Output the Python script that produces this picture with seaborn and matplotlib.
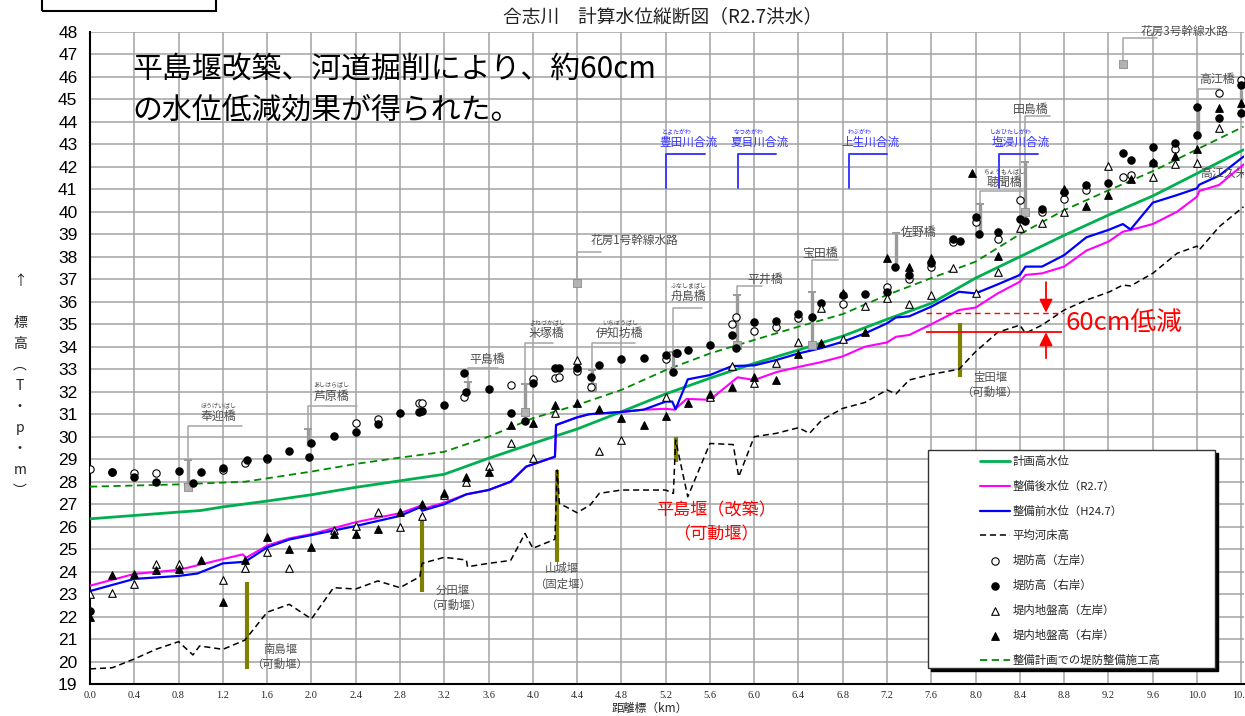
import matplotlib
matplotlib.use("Agg")
import matplotlib.pyplot as plt
from matplotlib.patches import Rectangle
from matplotlib.ticker import MultipleLocator
import pandas as pd
import seaborn as sns

# ---------------- data ----------------
plan_km = [0.0, 0.4, 0.8, 1.0, 1.2, 1.6, 2.0, 2.4, 2.8, 3.2, 3.6, 4.0, 4.4, 4.8, 5.2, 5.6,
           6.0, 6.4, 6.8, 7.2, 7.6, 8.0, 8.4, 8.8, 9.2, 9.6, 10.0, 10.42]
plan_h = [26.35, 26.5, 26.65, 26.72, 26.88, 27.14, 27.42, 27.75, 28.04, 28.33, 29.04, 29.7,
          30.34, 31.11, 31.9, 32.6, 33.26, 33.85, 34.47, 35.22, 35.93, 37.05, 38.0, 38.95,
          39.85, 40.7, 41.7, 42.75]

after_km = [0.0, 0.4, 0.8, 1.2, 1.38, 1.41, 1.6, 1.8, 2.0, 2.4, 2.8, 2.98, 3.0, 3.2, 3.4, 3.6,
            3.8, 3.94, 4.2, 4.21, 4.4, 4.51, 4.8, 5.0, 5.2, 5.28, 5.39, 5.6, 5.85, 6.0, 6.2,
            6.4, 6.6, 6.8, 7.0, 7.2, 7.28, 7.4, 7.6, 7.85, 8.0, 8.2, 8.4, 8.45, 8.6, 8.8,
            9.0, 9.2, 9.33, 9.4, 9.6, 9.82, 10.0, 10.02, 10.2, 10.42]
after_h = [23.38, 23.9, 24.08, 24.56, 24.77, 24.62, 25.16, 25.48, 25.67, 26.2, 26.6, 26.92,
           26.78, 27.07, 27.44, 27.63, 28.0, 28.67, 29.11, 30.52, 30.86, 31.0, 31.1, 31.2,
           31.24, 31.2, 31.68, 31.64, 32.64, 32.52, 32.87, 33.1, 33.31, 33.57, 34.0, 34.19,
           34.44, 34.52, 35.0, 35.63, 35.74, 36.37, 36.89, 37.19, 37.26, 37.56, 38.27, 38.67,
           39.11, 39.19, 39.45, 40.0, 40.67, 40.92, 41.19, 42.1]

before_km = [0.0, 0.4, 0.8, 0.97, 1.2, 1.4, 1.6, 1.8, 2.0, 2.4, 2.8, 2.98, 3.0, 3.2, 3.4, 3.6,
             3.8, 3.94, 4.2, 4.21, 4.4, 4.51, 4.8, 5.0, 5.2, 5.26, 5.29, 5.4, 5.6, 5.8, 6.0,
             6.2, 6.4, 6.6, 6.8, 7.0, 7.2, 7.28, 7.4, 7.6, 7.85, 8.0, 8.2, 8.4, 8.45, 8.6,
             8.8, 9.0, 9.2, 9.33, 9.4, 9.6, 9.82, 10.0, 10.02, 10.2, 10.42]
before_h = [23.14, 23.68, 23.81, 23.92, 24.37, 24.44, 25.08, 25.43, 25.63, 26.03, 26.48,
            26.86, 26.71, 27.0, 27.44, 27.63, 28.0, 28.67, 29.11, 30.52, 30.86, 31.0, 31.1,
            31.2, 31.56, 31.56, 31.22, 32.55, 32.74, 33.14, 33.17, 33.41, 33.7, 33.93, 34.22,
            34.59, 35.04, 35.3, 35.35, 35.78, 36.44, 36.37, 36.77, 37.19, 37.56, 37.56, 38.07,
            38.86, 39.19, 39.45, 39.21, 40.4, 40.74, 41.04, 41.2, 41.6, 42.45]

bed_km = [0.0, 0.2, 0.4, 0.6, 0.8, 0.93, 0.99, 1.2, 1.4, 1.6, 1.8, 2.0, 2.2, 2.4, 2.6, 2.8,
          2.98, 3.0, 3.2, 3.4, 3.41, 3.6, 3.8, 3.93, 4.0, 4.2, 4.22, 4.24, 4.4, 4.52, 4.6,
          4.8, 5.2, 5.27, 5.29, 5.4, 5.6, 5.81, 5.86, 6.0, 6.2, 6.4, 6.5, 6.61, 6.8, 7.0,
          7.2, 7.28, 7.4, 7.6, 7.85, 8.0, 8.2, 8.4, 8.45, 8.6, 8.8, 9.0, 9.21, 9.33, 9.4,
          9.6, 9.82, 10.0, 10.02, 10.2, 10.42]
bed_h = [19.68, 19.73, 20.12, 20.56, 20.89, 20.3, 20.7, 20.55, 20.96, 22.2, 22.55, 21.9,
         23.29, 23.23, 23.59, 23.29, 23.78, 24.37, 24.64, 24.52, 24.22, 24.37, 24.5, 25.7,
         25.04, 25.44, 28.52, 27.04, 26.62, 26.97, 27.48, 27.63, 27.63, 27.48, 29.85, 27.33,
         29.7, 29.65, 28.22, 30.0, 30.15, 30.4, 30.15, 30.74, 31.26, 31.52, 32.08, 31.9,
         32.52, 32.77, 33.0, 33.78, 34.64, 34.96, 34.6, 34.96, 35.63, 36.07, 36.44, 36.74,
         36.7, 37.26, 38.15, 38.47, 38.3, 39.33, 40.22]

levee_km = [0.0, 0.8, 1.4, 1.6, 2.0, 2.4, 2.8, 3.2, 3.6, 4.0, 4.4, 4.8, 5.2, 5.6, 6.0, 6.4,
            6.8, 7.2, 7.6, 8.0, 8.4, 8.8, 9.2, 9.6, 10.0, 10.42]
levee_h = [27.78, 27.88, 28.0, 28.15, 28.45, 28.79, 29.07, 29.33, 30.0, 30.82, 31.41, 32.08,
           32.96, 33.7, 34.3, 34.89, 35.45, 36.3, 37.05, 37.78, 39.0, 40.07, 40.95, 41.8,
           42.77, 43.78]

lb_crest_km = [0.0, 0.2, 0.4, 0.6, 1.2, 1.4, 1.6, 2.4, 2.6, 2.97, 3.0, 3.38, 3.8, 4.0, 4.2,
               4.24, 4.4, 4.53, 5.2, 5.29, 5.8, 5.84, 6.0, 6.2, 6.4, 6.8, 7.2, 7.4, 7.6, 7.8,
               8.0, 8.2, 8.4, 8.6, 8.8, 9.0, 9.33, 9.4, 9.8, 10.2, 10.4]
lb_crest_h = [28.56, 28.45, 28.37, 28.37, 28.5, 28.82, 29.0, 30.6, 30.79, 31.48, 31.5, 31.75,
              32.3, 32.55, 32.6, 32.65, 32.93, 32.22, 33.45, 33.71, 35.0, 35.33, 34.71, 34.89,
              35.26, 35.9, 36.67, 37.0, 37.53, 38.65, 39.53, 38.77, 40.52, 39.99, 40.55, 40.96,
              41.56, 41.65, 42.8, 45.26, 45.85]

rb_crest_km = [0.0, 0.2, 0.4, 0.6, 0.8, 0.93, 1.0, 1.2, 1.42, 1.6, 1.8, 1.98, 2.0, 2.2, 2.4,
               2.6, 2.8, 2.97, 3.0, 3.2, 3.38, 3.4, 3.6, 3.8, 3.93, 4.0, 4.2, 4.24, 4.4, 4.53,
               4.6, 4.8, 5.0, 5.2, 5.27, 5.3, 5.4, 5.6, 5.8, 5.84, 6.0, 6.2, 6.4, 6.52, 6.6,
               6.8, 7.0, 7.2, 7.27, 7.4, 7.6, 7.8, 7.86, 8.0, 8.03, 8.2, 8.4, 8.45, 8.6, 8.8,
               9.0, 9.2, 9.33, 9.4, 9.6, 9.6, 9.8, 10.0, 10.0, 10.2, 10.4, 10.4]
rb_crest_h = [22.25, 28.42, 28.2, 28.0, 28.49, 27.96, 28.42, 28.6, 28.96, 29.05, 29.38, 29.11,
              29.73, 30.04, 30.19, 30.55, 31.04, 31.08, 31.15, 31.41, 32.82, 32.0, 32.1, 31.04,
              30.71, 32.4, 33.07, 33.07, 33.07, 32.64, 33.2, 33.47, 33.5, 33.63, 32.86, 33.7,
              33.84, 34.07, 34.5, 33.95, 35.08, 35.16, 35.46, 35.3, 35.94, 36.28, 36.33, 36.42,
              37.53, 37.2, 37.7, 38.8, 38.7, 39.78, 39.0, 39.11, 39.66, 39.6, 40.1, 40.87, 41.2,
              41.28, 42.6, 42.3, 42.89, 42.18, 43.04, 44.67, 43.41, 44.15, 44.37, 45.63]

lb_ground_km = [0.0, 0.2, 0.4, 0.6, 0.8, 1.2, 1.4, 1.6, 1.8, 2.2, 2.4, 2.6, 2.8, 3.0, 3.2,
                3.4, 3.6, 3.8, 4.0, 4.2, 4.4, 4.6, 4.8, 5.2, 5.6, 5.8, 6.0, 6.2, 6.4, 6.6,
                6.8, 7.0, 7.2, 7.4, 7.6, 7.8, 8.0, 8.2, 8.4, 8.6, 8.8, 9.2, 9.6, 9.8, 10.0, 10.2]
lb_ground_h = [23.0, 23.07, 23.44, 24.33, 24.33, 23.63, 24.15, 24.89, 24.15, 25.85, 26.03,
               26.67, 26.0, 26.48, 27.4, 28.0, 28.7, 29.7, 29.04, 31.07, 33.41, 29.38, 29.85,
               31.78, 31.75, 33.16, 32.37, 33.26, 34.2, 35.7, 34.34, 35.8, 36.15, 35.9, 36.3,
               37.51, 36.37, 37.33, 39.26, 39.51, 40.0, 42.03, 41.56, 42.1, 42.18, 43.74]

rb_ground_km = [0.0, 0.2, 0.4, 0.6, 0.8, 1.0, 1.2, 1.4, 1.6, 1.8, 2.0, 2.2, 2.4, 2.6, 2.8,
                3.0, 3.2, 3.4, 3.6, 3.8, 4.0, 4.2, 4.4, 4.6, 4.8, 5.0, 5.2, 5.4, 5.6, 5.8,
                6.0, 6.2, 6.4, 6.6, 6.8, 7.0, 7.2, 7.4, 7.6, 7.97, 8.2, 8.8, 9.0, 9.2, 9.4,
                9.6, 9.8, 10.0, 10.2, 10.4]
rb_ground_h = [22.0, 23.85, 23.9, 24.08, 24.1, 24.52, 22.64, 24.5, 25.56, 25.0, 25.1, 25.66,
               25.66, 25.9, 26.67, 27.0, 27.48, 28.22, 28.44, 30.52, 30.63, 31.4, 31.51, 31.23,
               30.84, 30.52, 30.94, 31.51, 31.88, 32.2, 32.67, 32.52, 33.66, 34.18, 36.4, 34.67,
               37.93, 37.56, 37.93, 41.73, 38.03, 41.0, 40.25, 40.74, 41.44, 42.2, 42.46, 42.8,
               44.6, 44.82]

# weirs
weir_names = ["南島堰\n（可動堰）", "分田堰\n（可動堰）", "山城堰\n（固定堰）",
              "平島堰（改築）\n（可動堰）", "宝田堰\n（可動堰）"]
weir_km = [1.42, 3.0, 4.22, 5.29, 7.86]
weir_top = [23.55, 26.5, 28.52, 29.97, 35.04]
weir_bottom = [19.67, 23.08, 24.44, 28.89, 32.67]

# bridges / structures: km, top of bar, bottom of bar
bridge_names = ["奉迎橋", "芦原橋", "平島橋", "米塚橋", "伊知坊橋", "舟島橋", "平井橋",
                "宝田橋", "佐野橋", "聴聞橋", "田島橋", "高江橋"]
bridge_kana = ["ほうげいばし", "あしはらばし", "", "よねづかばし", "いちぼうばし",
               "ふなしまばし", "", "", "", "ちょうもんばし", "", ""]
bridge_km = [0.885, 1.97, 3.415, 3.93, 4.532, 5.264, 5.842, 6.519, 7.28, 8.04, 8.446, 10.01]
bridge_top = [28.96, 30.35, 32.44, 32.33, 32.97, 33.78, 36.3, 36.45, 39.07, 40.33, 42.2, 44.67]
bridge_bottom = [27.78, 29.6, 32.0, 31.11, 32.22, 32.89, 34.07, 34.07, 37.56, 38.96, 40.0, 43.41]
bridge_square = [True, False, False, True, True, False, True, True, False, False, True, False]

canal_names = ["花房1号幹線水路", "花房3号幹線水路"]
canal_km = [4.4, 9.33]
canal_h = [36.85, 46.55]

conf_names = ["豊田川合流", "夏目川合流", "上生川合流", "塩浸川合流"]
conf_kana = ["とよたがわ", "なつめがわ", "わぶがわ", "しおひたしがわ"]
conf_km = [5.203, 5.851, 6.854, 8.211]

xtick_vals = [round(0.4 * i, 1) for i in range(27)]
xtick_labels = [f"{v:.1f}" for v in xtick_vals]

# ---------------- layout (positions only) ----------------
bridge_label_xy = [(1.156, 30.92), (2.183, 31.81), (3.584, 33.45), (4.126, 34.6),
                   (4.788, 34.6), (5.405, 36.22), (6.098, 36.99), (6.594, 38.15),
                   (7.32, 39.07), (8.257, 41.29), (8.5, 44.55), (10.18, 45.88)]
bridge_leader = [(30.49, 1.373), (31.36, 2.41), (33.07, 3.686), (34.15, 4.18),
                 (34.15, 4.923), (35.71, 5.526), (36.71, 6.067), (37.85, 6.759),
                 (None, None), (40.93, 8.43), (44.25, 8.672), (45.45, 10.21)]
canal_label_xy = [(4.92, 38.7), (9.892, 48.0)]
canal_leader = [(38.22, 4.62), (47.71, 9.64)]
weir_label_xy = [(1.716, 20.2), (3.28, 22.83), (4.264, 23.81), (5.655, 26.19), (8.13, 32.3)]

sns.set_style("white")
JP = ['Noto Sans CJK JP', 'DejaVu Sans']
plt.rcParams['font.family'] = JP

W, H = 1245, 716
fig = plt.figure(figsize=(W / 100, H / 100), dpi=100)
ax = fig.add_axes([90 / W, 1 - 684.2 / H, (1243.5 - 90) / W, (684.2 - 31.7) / H])


def draw_line(x, y, color, lw, label, ls='-', z=4):
    df = pd.DataFrame({'km': x, 'h': y})
    sns.lineplot(data=df, x='km', y='h', color=color, linewidth=lw, linestyle=ls,
                 estimator=None, sort=False, label=label, legend=False, ax=ax, zorder=z)


def draw_pts(x, y, marker, face, label, s):
    sns.scatterplot(x=x, y=y, marker=marker, s=s, color=face, edgecolor='black',
                    linewidth=0.8, label=label, legend=False, ax=ax, zorder=5)


draw_line(plan_km, plan_h, '#00b050', 2.0, '計画高水位')
draw_line(after_km, after_h, '#ff00ff', 1.5, '整備後水位（R2.7）', z=4.2)
draw_line(before_km, before_h, '#0000ff', 1.6, '整備前水位（H24.7）', z=4.3)
draw_line(bed_km, bed_h, 'black', 1.1, '平均河床高', ls=(0, (4, 2.5)))
draw_line(levee_km, levee_h, '#008a00', 1.3, '整備計画での堤防整備施工高', ls=(0, (4, 2.5)))

draw_pts(lb_crest_km, lb_crest_h, 'o', 'white', '堤防高（左岸）', 28)
draw_pts(rb_crest_km, rb_crest_h, 'o', 'black', '堤防高（右岸）', 28)
draw_pts(lb_ground_km, lb_ground_h, '^', 'white', '堤内地盤高（左岸）', 30)
draw_pts(rb_ground_km, rb_ground_h, '^', 'black', '堤内地盤高（右岸）', 30)

# axes, grid, ticks
ax.set_xlim(0, 10.42)
ax.set_ylim(19, 48)
ax.set_xticks(xtick_vals)
ax.set_xticklabels(xtick_labels)
ax.xaxis.set_minor_locator(MultipleLocator(0.1))
ax.set_yticks(range(19, 49))
ax.grid(True, which='major', color='#a3a3a3', linewidth=1.1, zorder=0)
ax.set_axisbelow(True)
for s in ['top', 'right']:
    ax.spines[s].set_visible(False)
for s in ['left', 'bottom']:
    ax.spines[s].set_color('black')
    ax.spines[s].set_linewidth(1.5)
ax.tick_params(axis='y', which='major', direction='out', length=5, width=1.2,
               labelsize=12.5, pad=4, labelfontfamily='Liberation Sans', colors='black')
ax.tick_params(axis='x', which='major', direction='in', length=4, width=1.0,
               labelsize=7.5, pad=5, labelfontfamily='Liberation Serif')
ax.tick_params(axis='x', which='minor', direction='in', length=2, width=0.8)
ax.set_xlabel("")
ax.set_ylabel("")

# weirs
ax.vlines(weir_km, weir_bottom, weir_top, color='#808000', linewidth=3.0, zorder=3)
for (x, y), name in zip(weir_label_xy, weir_names):
    red = name.startswith("平島堰")
    ax.text(x, y, name, ha='center', va='center', multialignment='center',
            fontsize=12.3 if red else 8.2, color='#ff0000' if red else '#505050',
            linespacing=1.45, zorder=6)

# bridges
GR = '#9a9a9a'
for i, name in enumerate(bridge_names):
    km = bridge_km[i]
    ly, lx_end = bridge_leader[i]
    if ly is not None:
        ax.plot([lx_end, km, km], [ly, ly, bridge_top[i]], color='#a6a6a6', lw=1.1, zorder=3)
    ax.vlines(km, bridge_bottom[i], bridge_top[i], color=GR, lw=2.4, zorder=4.5)
    ax.hlines(bridge_top[i], km - 0.035, km + 0.035, color=GR, lw=1.4, zorder=4.5)
    if bridge_square[i]:
        ax.scatter([km], [bridge_bottom[i]], marker='s', s=30, color='#b3b3b3',
                   edgecolor='#8c8c8c', linewidth=0.6, zorder=4.6)
    tx, ty = bridge_label_xy[i]
    ha = 'left' if name == "佐野橋" else 'center'
    ax.text(tx, ty, name, ha=ha, va='center', fontsize=8.6, color='#4d4d4d', zorder=6)
    if bridge_kana[i]:
        ax.text(tx, ty + 0.46, bridge_kana[i], ha='center', va='center', fontsize=4.3,
                color='#4d4d4d', zorder=6)
# extra bar at the upstream end
ax.vlines(10.4, 44.4, 45.4, color=GR, lw=2.4, zorder=4.5)
ax.text(10.03, 41.71, "高江久米橋", ha='left', va='center', fontsize=8.6, color='#4d4d4d',
        zorder=6, clip_on=True)

for i, name in enumerate(canal_names):
    ly, lx_end = canal_leader[i]
    ax.plot([lx_end, canal_km[i], canal_km[i]], [ly, ly, canal_h[i]], color='#a6a6a6',
            lw=1.1, zorder=3, clip_on=False)
    ax.scatter([canal_km[i]], [canal_h[i]], marker='s', s=30, color='#b3b3b3',
               edgecolor='#8c8c8c', linewidth=0.6, zorder=4.6)
    tx, ty = canal_label_xy[i]
    ax.text(tx, ty, name, ha='center', va='center', fontsize=8.4, color='#4d4d4d',
            zorder=6, clip_on=False)

# tributary confluences
BL = '#3c3cff'
for i, name in enumerate(conf_names):
    km = conf_km[i]
    ax.plot([km, km, km + 0.35], [41.04, 42.56, 42.56], color=BL, lw=1.4, zorder=3)
    ax.text(km + 0.2, 43.07, name, ha='center', va='center', fontsize=8.4, color='#3333ff',
            zorder=6)
    ax.text(km + 0.1, 43.55, conf_kana[i], ha='center', va='center', fontsize=4.3,
            color='#3333ff', zorder=6)

# 60cm annotation
ax.hlines(35.51, 7.55, 8.80, color='red', lw=1.0, linestyles=(0, (4, 3)), zorder=6)
ax.hlines(34.64, 7.55, 8.78, color='red', lw=1.3, zorder=6)
ax.annotate('', xy=(8.636, 35.51), xytext=(8.636, 36.87),
            arrowprops=dict(arrowstyle='-|>', color='red', lw=1.3, mutation_scale=20,
                            shrinkA=0, shrinkB=0), zorder=6)
ax.annotate('', xy=(8.636, 34.64), xytext=(8.636, 33.49),
            arrowprops=dict(arrowstyle='-|>', color='red', lw=1.3, mutation_scale=20,
                            shrinkA=0, shrinkB=0), zorder=6)
ax.text(8.81, 35.07, "60cm低減", ha='left', va='center', fontsize=18.5, color='red', zorder=6)

# headline
ax.text(0.38, 45.42, "平島堰改築、河道掘削により、約60cm\nの水位低減効果が得られた。",
        ha='left', va='center', fontsize=21.5, color='black', linespacing=1.45, zorder=6)

# legend frame with shadow
x0, x1 = (928 - 90) / 110.7, (1215 - 90) / 110.7
y1, y0 = 20 + (661.7 - 450) / 22.5, 20 + (661.7 - 668) / 22.5
ax.add_patch(Rectangle((x0 + 0.03, y0 - 0.15), x1 - x0, y1 - y0, facecolor='black',
                       edgecolor='black', zorder=7))
ax.add_patch(Rectangle((x0, y0), x1 - x0, y1 - y0, facecolor='white', edgecolor='#333333',
                       lw=1.0, zorder=7.5))
handles, labels = ax.get_legend_handles_labels()
order = ['計画高水位', '整備後水位（R2.7）', '整備前水位（H24.7）', '平均河床高',
         '堤防高（左岸）', '堤防高（右岸）', '堤内地盤高（左岸）', '堤内地盤高（右岸）',
         '整備計画での堤防整備施工高']
hmap = dict(zip(labels, handles))
leg = ax.legend([hmap[k] for k in order], order, loc='upper left',
                bbox_to_anchor=((980 - 90) / (1243.5 - 90), (684.2 - 456) / (684.2 - 31.7)),
                frameon=False, fontsize=8.2, handlelength=2.6, handletextpad=0.25,
                labelspacing=1.2, borderpad=0, borderaxespad=0, scatterpoints=1)
leg.set_zorder(8)

# titles & axis labels
fig.text(663 / W, 1 - 17 / H, "合志川　計算水位縦断図（R2.7洪水）", ha='center', va='center',
         fontsize=13.5, color='#222222')
fig.text(650 / W, 1 - 708 / H, "距離標（km）", ha='center', va='center', fontsize=8.5)
fig.text(20 / W, 1 - 386 / H, "↑\n\n標\n高\n︵\nT\n・\np\n・\nm\n︶", ha='center',
         va='center', fontsize=10, linespacing=1.63, color='#222222')

# empty box at the top left
fig.patches.append(Rectangle((42 / W, 1 - 11 / H), 174 / W, 0.05, transform=fig.transFigure,
                             fill=False, edgecolor='black', lw=1.5))

fig.savefig("out.png", dpi=100)
